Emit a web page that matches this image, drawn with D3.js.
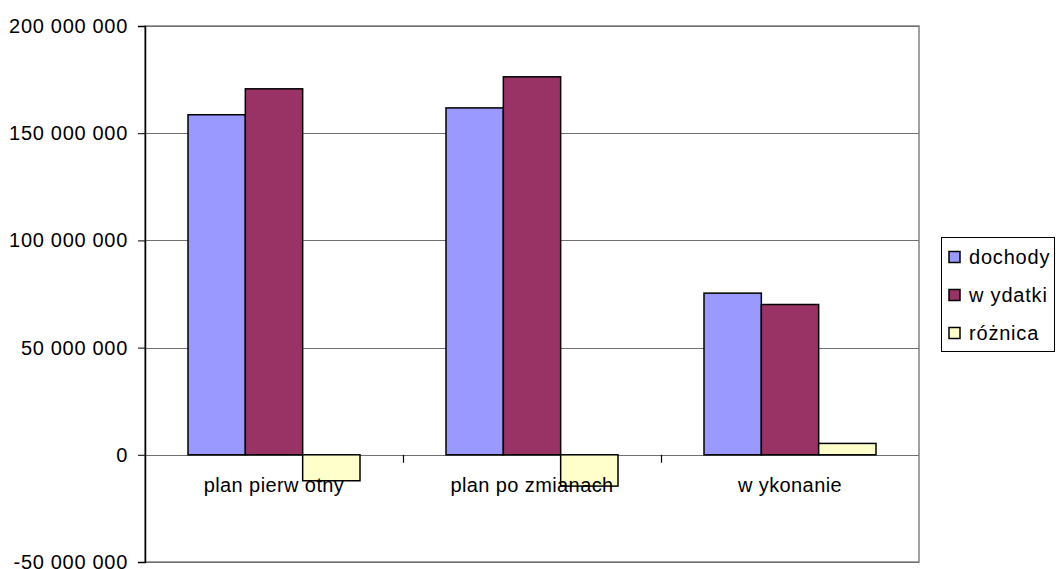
<!DOCTYPE html>
<html><head><meta charset="utf-8">
<script src="https://cdn.jsdelivr.net/npm/d3@7"></script>
<style>
html,body{margin:0;padding:0;background:#fff;}
svg{display:block;font-family:"Liberation Sans",Arial,sans-serif;}
</style></head>
<body>
<svg id="chart" width="1056" height="569"></svg>
<script>
const categories = ["plan pierw otny", "plan po zmianach", "w ykonanie"];
const seriesNames = ["dochody", "w ydatki", "różnica"];
const dochody = [158600000, 161800000, 75400000];
const wydatki = [170700000, 176300000, 70100000];
const roznica = [-12100000, -14600000, 5300000];
const yTicks = [-50000000, 0, 50000000, 100000000, 150000000, 200000000];
const colors = ["#9999FF", "#993366", "#FFFFCC"];

const series = [dochody, wydatki, roznica];
const svg = d3.select("#chart");
const L = 145, R = 919, T = 26, B = 562;

const x = d3.scaleBand().domain(categories).range([L, R]).paddingInner(0).paddingOuter(0);
// gap width 150%: bar = band/(n+1.5)
const barW = x.bandwidth() / (series.length + 1.5);
const y = d3.scaleLinear().domain([-50000000, 200000000]).range([B, T]);

const loc = d3.formatLocale({decimal: ",", thousands: "\u00a0", grouping: [3], currency: ["", ""], minus: "-"});
const fmt = loc.format(",d");

// plot border
svg.append("rect").attr("x", L).attr("y", T).attr("width", R - L).attr("height", B - T)
  .attr("fill", "#fff").attr("stroke", "#808080").attr("stroke-width", 1.5);

// gridlines
svg.append("g").selectAll("line").data(yTicks).join("line")
  .attr("x1", L).attr("x2", R)
  .attr("y1", d => Math.round(y(d)) + 0.5).attr("y2", d => Math.round(y(d)) + 0.5)
  .attr("stroke", "#707070").attr("stroke-width", 1.2);

// bars
series.forEach((vals, si) => {
  svg.append("g").selectAll("rect").data(categories).join("rect")
    .attr("x", c => x(c) + barW * 0.75 + si * barW)
    .attr("width", barW)
    .attr("y", (c, i) => y(Math.max(0, vals[i])))
    .attr("height", (c, i) => Math.abs(y(vals[i]) - y(0)))
    .attr("fill", colors[si]).attr("stroke", "#000").attr("stroke-width", 1.5);
});

// y axis
const yAxis = d3.axisLeft(y).tickValues(yTicks).tickFormat(fmt).tickSizeInner(7).tickSizeOuter(7).tickPadding(10);
const gy = svg.append("g").attr("transform", `translate(${L},0)`).call(yAxis);
gy.select(".domain").attr("stroke", "#000").attr("stroke-width", 1.5);
gy.selectAll(".tick line").attr("stroke", "#000").attr("stroke-width", 1);
gy.selectAll(".tick text").attr("font-size", 20).attr("fill", "#000")
  .attr("letter-spacing", "0.7px")
  .attr("font-family", "'Liberation Sans', Arial, sans-serif");

// x axis tick marks at category boundaries
const bounds = categories.map(c => x(c)).concat([R]);
svg.append("g").selectAll("line").data(bounds.slice(1, -1)).join("line")
  .attr("x1", d => Math.round(d) + 0.5).attr("x2", d => Math.round(d) + 0.5)
  .attr("y1", y(0)).attr("y2", y(0) + 8).attr("stroke", "#000").attr("stroke-width", 1.2);

// category labels
svg.append("g").selectAll("text").data(categories).join("text")
  .attr("x", c => x(c) + x.bandwidth() / 2)
  .attr("y", y(0) + 37)
  .attr("text-anchor", "middle").attr("font-size", 20).attr("fill", "#000")
  .attr("letter-spacing", "0.4px")
  .text(c => c);

// legend
const lg = svg.append("g");
lg.append("rect").attr("x", 941.5).attr("y", 237.5).attr("width", 113).attr("height", 114)
  .attr("fill", "#fff").attr("stroke", "#000").attr("stroke-width", 1);
const items = lg.selectAll("g.item").data(seriesNames).join("g").attr("class", "item")
  .attr("transform", (d, i) => `translate(949,${257 + i * 38})`);
items.append("rect").attr("x", 0).attr("y", -5.5).attr("width", 11).attr("height", 11)
  .attr("fill", (d, i) => colors[i]).attr("stroke", "#000").attr("stroke-width", 1.5);
items.append("text").attr("x", 20).attr("y", 7).attr("font-size", 20).attr("fill", "#000")
  .attr("letter-spacing", "0.8px").text(d => d);
</script>
</body></html>
